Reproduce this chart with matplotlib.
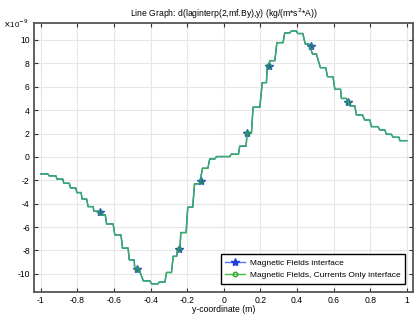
import numpy as np
import matplotlib
matplotlib.use("Agg")
import matplotlib.pyplot as plt

plt.rcParams['font.family'] = ['Liberation Sans', 'DejaVu Sans']

# flat pieces of the staircase curve (start, end, level) in units of 1e-9
flat_start = [-1.0, -0.955, -0.912, -0.875, -0.838, -0.803, -0.775, -0.742, -0.71, -0.675,
              -0.641, -0.596, -0.554, -0.517, -0.487, -0.44, -0.395, -0.353, -0.313, -0.277,
              -0.252, -0.235, -0.197, -0.16, -0.116, -0.077, -0.04, 0.04, 0.087, 0.127,
              0.16, 0.21, 0.238, 0.251, 0.29, 0.333, 0.37, 0.404, 0.445, 0.485,
              0.528, 0.567, 0.607, 0.643, 0.689, 0.725, 0.77, 0.807, 0.852, 0.889,
              0.925, 0.962]
flat_end = [-0.962, -0.918, -0.88, -0.845, -0.81, -0.78, -0.75, -0.715, -0.685, -0.648,
            -0.605, -0.562, -0.523, -0.49, -0.465, -0.404, -0.36, -0.322, -0.286, -0.258,
            -0.24, -0.206, -0.17, -0.133, -0.087, -0.049, 0.033, 0.08, 0.122, 0.151,
            0.197, 0.233, 0.248, 0.279, 0.324, 0.36, 0.397, 0.432, 0.465, 0.506,
            0.557, 0.597, 0.638, 0.67, 0.716, 0.758, 0.798, 0.843, 0.88, 0.916,
            0.958, 1.0]
levels = [-1.45, -1.62, -1.9, -2.25, -2.65, -3.05, -3.6, -4.25, -4.65, -4.96,
          -5.73, -6.67, -7.8, -8.8, -9.55, -10.6, -10.85, -10.7, -9.88, -8.5,
          -7.86, -6.47, -4.3, -2.3, -0.97, -0.17, 0.03, 0.23, 0.92, 2.05,
          4.25, 6.35, 7.9, 8.23, 9.77, 10.6, 10.77, 10.55, 9.66, 8.8,
          7.63, 6.86, 5.78, 5.0, 4.36, 3.59, 3.16, 2.59, 2.31, 1.94,
          1.68, 1.39]

# marker positions
mark_x = [-0.678, -0.476, -0.244, -0.124, 0.127, 0.246, 0.475, 0.68]
mark_y = [-4.7, -9.55, -7.86, -2.05, 2.05, 7.8, 9.51, 4.67]

xticks = [-1, -0.8, -0.6, -0.4, -0.2, 0, 0.2, 0.4, 0.6, 0.8, 1]
xtick_labels = ["-1", "-0.8", "-0.6", "-0.4", "-0.2", "0", "0.2", "0.4", "0.6", "0.8", "1"]
yticks = [-10, -8, -6, -4, -2, 0, 2, 4, 6, 8, 10]
ytick_labels = ["-10", "-8", "-6", "-4", "-2", "0", "2", "4", "6", "8", "10"]

# build the polyline from the flat pieces
xs = []
ys = []
for s, e, l in zip(flat_start, flat_end, levels):
    xs += [s, e]
    ys += [l, l]

fig = plt.figure(figsize=(4.19, 3.15), dpi=100)
ax = fig.add_axes([0.081, 0.073, 0.905, 0.854])

blue = "#2a4de0"
green = "#33b35a"

ax.plot(xs, ys, color=blue, lw=1.0, zorder=3)
ax.plot(mark_x, mark_y, ls="none", marker="*", ms=6, color=blue, mec=blue, zorder=4)
ax.plot(xs, ys, color=green, lw=1.0, zorder=5)
ax.plot(mark_x, mark_y, ls="none", marker="o", ms=3, mfc="none", mec="#2e8b57", mew=1.0, zorder=6)

# legend proxies
h1, = ax.plot([], [], color="#5a78ff", lw=1.0, marker="*", ms=6, mec="#1f3fe0", mfc="#1f3fe0")
h2, = ax.plot([], [], color="#40c040", lw=1.0, marker="o", ms=3.2, mfc="none", mec="#30a030")
leg = ax.legend([h1, h2], ["Magnetic Fields interface", "Magnetic Fields, Currents Only interface"],
                loc="lower right", fontsize=6.0, fancybox=False, framealpha=1,
                edgecolor="black", borderaxespad=1.0, handlelength=2.4, handletextpad=0.5,
                labelspacing=0.55, borderpad=0.55)
leg.get_frame().set_linewidth(1.0)

ax.set_xlim(-1.038, 1.035)
ax.set_ylim(-11.55, 11.45)
ax.set_xticks(xticks)
ax.set_xticklabels(xtick_labels)
ax.set_yticks(yticks)
ax.set_yticklabels(ytick_labels)
ax.tick_params(direction="in", length=3, width=0.8, labelsize=6.2, color="#333333",
               top=True, right=True, pad=3)
ax.grid(True, color="#e6e6e6", lw=0.8)
ax.set_axisbelow(True)
for sp in ax.spines.values():
    sp.set_color("#555555")
    sp.set_linewidth(1.3)

ax.set_title("Line Graph: d(laginterp(2,mf.By),y) (kg/(m*s$^2$*A))", fontsize=6.2, pad=4)
ax.set_xlabel("y-coordinate (m)", fontsize=6.2, labelpad=0)
fig.text(0.008, 0.925, r"$\times$10$^{-9}$", fontsize=5.8, va="center")

fig.savefig("out.png", dpi=100)
